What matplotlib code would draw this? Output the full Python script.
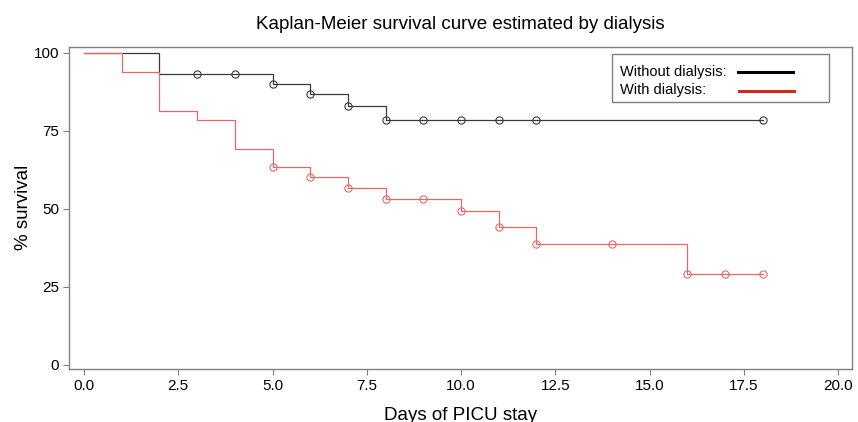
import matplotlib
matplotlib.use("Agg")
import matplotlib.pyplot as plt
from matplotlib.lines import Line2D
from matplotlib.patches import Rectangle

plt.rcParams['font.family'] = ['Liberation Sans', 'DejaVu Sans']

# Without dialysis (black)
nodial_t = [0, 2, 5, 6, 7, 8, 18]
nodial_s = [100, 93.1, 89.9, 86.6, 82.9, 78.4, 78.4]
nodial_cens_t = [3, 4, 5, 6, 7, 8, 9, 10, 11, 12, 18]
nodial_cens_s = [93.1, 93.1, 89.9, 86.6, 82.9, 78.4, 78.4, 78.4, 78.4, 78.4, 78.4]

# With dialysis (red)
dial_t = [0, 1, 2, 3, 4, 5, 6, 7, 8, 10, 11, 12, 16, 18]
dial_s = [100, 93.8, 81.4, 78.3, 69.1, 63.2, 60.0, 56.6, 53.0, 49.2, 44.1, 38.6, 28.9, 28.9]
dial_cens_t = [5, 6, 7, 8, 9, 10, 11, 12, 14, 16, 17, 18]
dial_cens_s = [63.2, 60.0, 56.6, 53.0, 53.0, 49.2, 44.1, 38.6, 38.6, 28.9, 28.9, 28.9]

xticks = [0.0, 2.5, 5.0, 7.5, 10.0, 12.5, 15.0, 17.5, 20.0]
yticks = [0, 25, 50, 75, 100]
labels = ["Without dialysis:", "With dialysis:"]

fig = plt.figure(figsize=(8.58, 4.22), dpi=100)
ax = fig.add_axes([0.0804, 0.1256, 0.9126, 0.7637])

black = '#3a3a3a'
red = '#e46a6a'
ax.step(nodial_t, nodial_s, where='post', color=black, lw=0.9)
ax.plot(nodial_cens_t, nodial_cens_s, 'o', ms=5.2, mfc='none', mec=black, mew=0.8)
ax.step(dial_t, dial_s, where='post', color=red, lw=0.9)
ax.plot(dial_cens_t, dial_cens_s, 'o', ms=5.2, mfc='none', mec=red, mew=0.8)

ax.set_xlim(-0.4, 20.37)
ax.set_ylim(-1.4, 101.9)
ax.set_xticks(xticks)
ax.set_xticklabels([f"{v:.1f}" for v in xticks])
ax.set_yticks(yticks)
ax.tick_params(axis='both', labelsize=11, length=4, width=0.8, color='#808080', pad=3)
for sp in ax.spines.values():
    sp.set_color('#808080')
    sp.set_linewidth(1.0)

ax.set_title("Kaplan-Meier survival curve estimated by dialysis", fontsize=13.5, pad=13)
ax.set_xlabel("Days of PICU stay", fontsize=13.5, labelpad=10)
ax.set_ylabel("% survival", fontsize=13.5, labelpad=1)

# Legend box (figure pixel coords -> axes fraction)
def fx(px):
    return (px - 69) / (852 - 69)
def fy(py):
    return (369 - py) / (369 - 46.7)

ax.add_patch(Rectangle((fx(612), fy(102)), fx(829) - fx(612), fy(54) - fy(102),
                       transform=ax.transAxes, fill=True, facecolor='white',
                       edgecolor='#808080', lw=1.0, zorder=5))
ax.text(fx(620), fy(72), labels[0], transform=ax.transAxes, fontsize=10.5,
        va='center', ha='left', zorder=6)
ax.text(fx(620), fy(90), labels[1], transform=ax.transAxes, fontsize=10.5,
        va='center', ha='left', zorder=6)
ax.add_line(Line2D([fx(738), fx(793)], [fy(72), fy(72)], transform=ax.transAxes,
                   color='black', lw=2.2, zorder=6))
ax.add_line(Line2D([fx(739), fx(794)], [fy(91), fy(91)], transform=ax.transAxes,
                   color='#cc2a1a', lw=2.2, zorder=6))

fig.savefig("out.png", dpi=100)
